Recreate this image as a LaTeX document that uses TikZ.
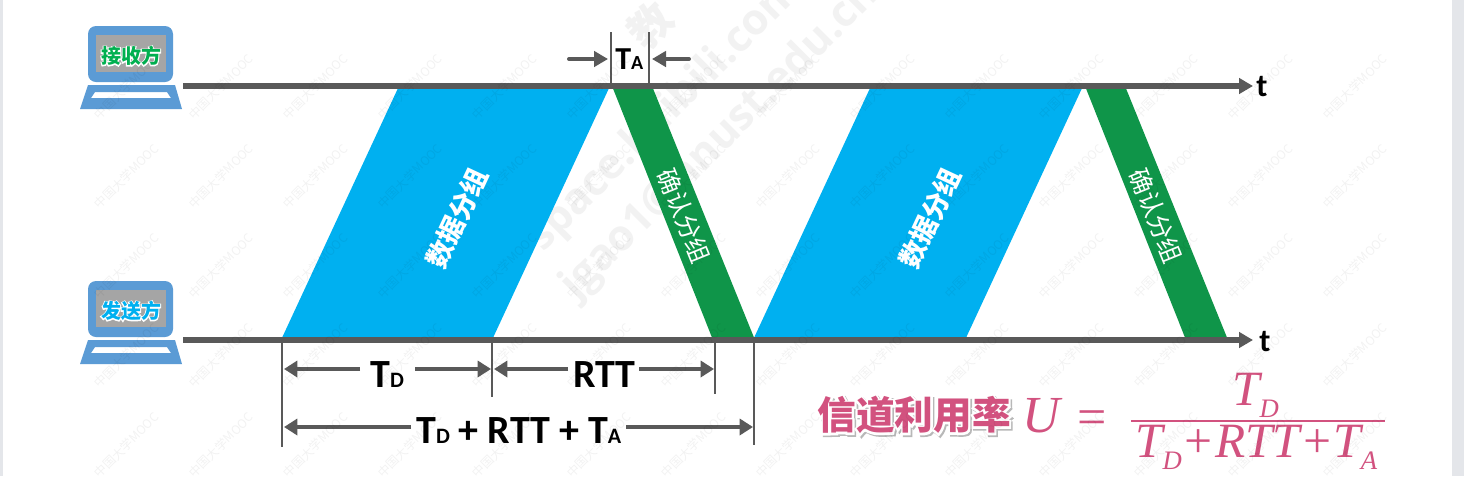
\documentclass[tikz,border=0pt]{standalone}
\usepackage{fontspec}
\usetikzlibrary{arrows.meta,calc}
\setmainfont{Carlito}
\newfontfamily\cjk{Noto Sans CJK SC}
\newcommand\cjkb{\cjk\bfseries}
\newfontfamily\cjkhalo[BoldFeatures={FakeBold=10}]{Noto Sans CJK SC}
\newfontfamily\wmfont{Open Sans}
\newfontfamily\timr{Liberation Serif}
\newcommand\tim{\timr\itshape}
\definecolor{skyb}{HTML}{00B0F0}
\definecolor{ackg}{HTML}{0F9549}
\definecolor{linegray}{HTML}{595959}
\definecolor{lapblue}{HTML}{5B9BD5}
\definecolor{scrgray}{HTML}{A5A5A5}
\definecolor{rosy}{HTML}{D2527F}
\definecolor{sidebar}{HTML}{E4E6EA}
\definecolor{okgreen}{HTML}{00B050}
\newcommand\halotext[3]{{\fontsize{#1}{#1}\selectfont\rlap{\cjkhalo\bfseries\color{white}#3}\cjkb\color{#2}#3}}
\newcommand\shadowtext[3]{{\fontsize{#1}{#1}\selectfont\rlap{\kern1.2pt\raisebox{-1.2pt}{\cjkhalo\bfseries\color{black!28}#3}}\rlap{\cjkhalo\bfseries\color{white}#3}\cjkb\color{#2}#3}}
\newcommand\lowsub[2]{\raisebox{-9pt}{\fontsize{#1}{#1}\selectfont #2}}
\newcommand\tsub[1]{{\fontsize{16.5pt}{16.5pt}\selectfont #1}}
\tikzset{
 axis/.style={draw=linegray,line width=3.8pt,-{Triangle[length=10.5pt,width=11.5pt]}},
 tick/.style={draw=linegray,line width=2pt},
 dim/.style={draw=linegray,line width=3.6pt,-{Triangle[length=10pt,width=12pt]}},
 dimin/.style={draw=linegray,line width=3pt,line cap=round,-{Triangle[length=10.5pt,width=11.5pt]}},
 lab/.style={font=\fontsize{30pt}{30pt}\selectfont\bfseries,text=black,inner sep=0pt,anchor=base west},
 pinkt/.style={text=rosy,inner sep=0pt,anchor=base},
 pinkw/.style={text=rosy,inner sep=0pt,anchor=base west},
 packet/.style={text=white,inner sep=0pt},
 bigmark/.style={text=black!5,inner sep=0pt,anchor=west,rotate=45,font=\wmfont\bfseries\fontsize{32pt}{32pt}\selectfont},
 smallmark/.style={text=black,opacity=.05,inner sep=0pt,rotate=45,font=\cjk\fontsize{9.2pt}{9.2pt}\selectfont},
 laptop/.pic={
  \fill[lapblue,rounded corners=6pt] (88,82)--(88,26)--(173,26)--(173,82)--cycle;
  \fill[scrgray] (96,35) rectangle (166,72);
  \fill[lapblue,even odd rule] (88,85)--(175,85)--(182,109)--(80,109)--cycle
     (95,92)--(167,92)--(171,98)--(91,98)--cycle;
 }
}
\begin{document}
\begin{tikzpicture}[x=.75pt,y=-.75pt]
\useasboundingbox (0,0) rectangle (1464,476);
\fill[white] (0,0) rectangle (1464,476);
\fill[sidebar] (0,0) rectangle (3,476);
\fill[sidebar] (1452,0) rectangle (1464,476);
% large faint marks
\node[bigmark] (wmA) at (535,245) {space.bilibili.com};
\node[bigmark] (wmB) at (568,293) {jgao1@hnust.edu.cn};
\node[bigmark,font=\cjkb\fontsize{32pt}{32pt}\selectfont] (wmC) at (635,40) {教};
% coordinates
\coordinate (rs) at (183,86); \coordinate (re) at (1253,86);
\coordinate (ss) at (183,340); \coordinate (se) at (1253,340);
% packets
\fill[skyb] (399,86)--(610,86)--(492,340)--(281,340)--cycle;
\fill[ackg] (612,86)--(652,86)--(755,340)--(713,340)--cycle;
\fill[skyb] (871,86)--(1083,86)--(965,340)--(753,340)--cycle;
\fill[ackg] (1085,86)--(1125,86)--(1228,340)--(1186,340)--cycle;
\node[packet,rotate=65,font=\cjkb\fontsize{20pt}{20pt}\selectfont] (d1) at (457,218) {数据分组};
\node[packet,rotate=-68,font=\cjk\fontsize{18.5pt}{18.5pt}\selectfont] (a1) at (684,216) {确认分组};
\node[packet,rotate=65,font=\cjkb\fontsize{20pt}{20pt}\selectfont] (d2) at (930,218) {数据分组};
\node[packet,rotate=-68,font=\cjk\fontsize{18.5pt}{18.5pt}\selectfont] (a2) at (1156,216) {确认分组};
% time axes
\draw[axis] (rs)--(re);
\draw[axis] (ss)--(se);
\node[lab,font=\fontsize{24pt}{24pt}\selectfont\bfseries] (t1) at (1256,96) {t};
\node[lab,font=\fontsize{24pt}{24pt}\selectfont\bfseries] (t2) at (1259,351) {t};
% laptops
\pic (recv) at (0,0) {laptop};
\pic (send) at (0,255) {laptop};
\node[inner sep=0pt] (rl) at (131,56) {\halotext{15pt}{okgreen}{接收方}};
\node[inner sep=0pt] (sl) at (131,311) {\halotext{15pt}{skyb}{发送方}};
% T_A
\coordinate (a0) at (611,86); \coordinate (a0t) at (611,32);
\coordinate (a3) at (649,86); \coordinate (a3t) at (649,32);
\draw[tick] (a0)--(a0t);
\draw[tick] (a3)--(a3t);
\coordinate (al) at (569,59); \coordinate (ale) at (608,59);
\coordinate (ar) at (689,59); \coordinate (are) at (652,59);
\draw[dimin] (al)--(ale);
\draw[dimin] (ar)--(are);
\node[lab,font=\fontsize{24pt}{24pt}\selectfont\bfseries] (ta) at (615,69) {T{\fontsize{15pt}{15pt}\selectfont A}};
% dimension lines
\coordinate (x0) at (282,340); \coordinate (x0b) at (282,447);
\coordinate (x1) at (492,340); \coordinate (x1b) at (492,397);
\coordinate (x2) at (715,340); \coordinate (x2b) at (715,394);
\coordinate (x3) at (754,340); \coordinate (x3b) at (754,445);
\draw[tick] (x0)--(x0b);
\draw[tick] (x1)--(x1b);
\draw[tick] (x2)--(x2b);
\draw[tick] (x3)--(x3b);
\coordinate (d1a) at (360,369); \coordinate (d1b) at (284,369);
\coordinate (d2a) at (415,369); \coordinate (d2b) at (491,369);
\coordinate (d3a) at (568,369); \coordinate (d3b) at (494,369);
\coordinate (d4a) at (639,369); \coordinate (d4b) at (714,369);
\coordinate (d5a) at (411,427); \coordinate (d5b) at (284,427);
\coordinate (d6a) at (626,427); \coordinate (d6b) at (753,427);
\draw[dim] (d1a)--(d1b);
\draw[dim] (d2a)--(d2b);
\draw[dim] (d3a)--(d3b);
\draw[dim] (d4a)--(d4b);
\draw[dim] (d5a)--(d5b);
\draw[dim] (d6a)--(d6b);
\node[lab] (td) at (370,387) {T\tsub{D}};
\node[lab] (rtt) at (573,387) {RTT};
\node[lab] (tot) at (416,443) {T\tsub{D} + RTT + T\tsub{A}};
% formula
\node[inner sep=0pt] (cn) at (914,416) {\shadowtext{29pt}{rosy}{信道利用率}};
\node[pinkt,font=\tim\fontsize{39pt}{39pt}\selectfont] (u) at (1041,432) {U};
\node[pinkt,font=\timr\fontsize{39pt}{39pt}\selectfont] (eq) at (1092,434) {=};
\coordinate (fl) at (1131,421); \coordinate (fr) at (1385,421);
\draw[rosy,line width=1.5pt] (fl)--(fr);
\node[pinkw,font=\tim\fontsize{37pt}{37pt}\selectfont] (num) at (1232,405) {T\lowsub{20pt}{D}};
\node[pinkw,font=\tim\fontsize{37pt}{37pt}\selectfont] (den) at (1135,457) {T\lowsub{20pt}{D}{\timr +}RTT{\timr +}T\lowsub{20pt}{A}};
% small marks
\foreach \i in {1,...,14}{\foreach \j in {1,...,5}{
 \node[smallmark] (m\i-\j) at (32+94.5*\i,-3+89.6*\j) {中国大学MOOC};
}}
\end{tikzpicture}
\end{document}
